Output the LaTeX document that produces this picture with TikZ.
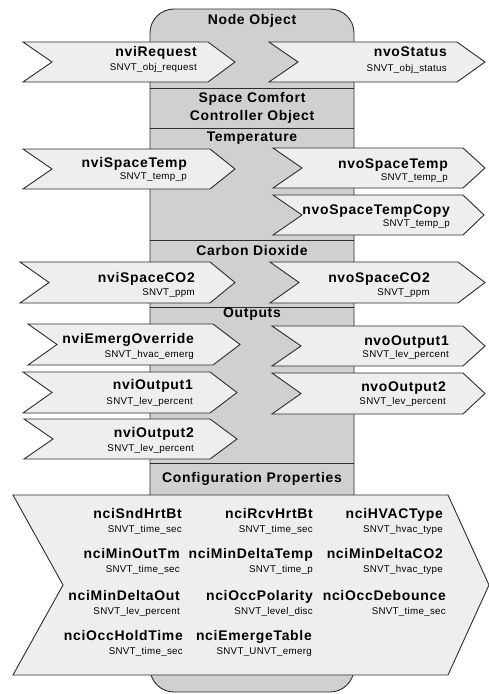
\documentclass[tikz,border=0pt]{standalone}
\usepackage{fontspec}
\setmainfont{Liberation Sans}
\newfontfamily\namefont[LetterSpace=5.0]{Liberation Sans}
\newfontfamily\typefont[LetterSpace=3.0]{Liberation Sans}
\usetikzlibrary{calc}

\definecolor{colfill}{RGB}{208,208,208}
\definecolor{chevfill}{RGB}{238,238,238}
\definecolor{edge}{RGB}{45,45,45}

\tikzset{
  chev/.style={draw=edge, fill=chevfill, line width=0.9bp, line join=miter},
  nvname/.style={font=\namefont\bfseries\fontsize{14}{14}\selectfont, anchor=base east, inner sep=0pt},
  nvtype/.style={font=\typefont\fontsize{9.8}{10}\selectfont, anchor=base east, inner sep=0pt},
  section/.style={font=\namefont\bfseries\fontsize{14}{18}\selectfont, inner sep=0pt, align=center},
}

\begin{document}
\begin{tikzpicture}[x=1bp, y=-1bp]
      \useasboundingbox (0,0) rectangle (489,694);

      % object column
      \draw[draw=edge, fill=colfill, line width=0.9bp, rounded corners=24bp] (150,9) rectangle (354,692);
      \foreach \ys in {88,128,240,307,463}{
        \draw[draw=edge, line width=0.9bp] (150,\ys) -- (354,\ys);
      }
      \node[section] (nodeobj) at (252,21) {Node Object};
      \node[section] (sccobj) at (252,108) {Space Comfort\\Controller Object};
      \node[section] (temp) at (252,138) {Temperature};
      \node[section] (co2) at (252,251) {Carbon Dioxide};
      \node[section] (outputs) at (252,314) {Outputs};
      \node[section] (config) at (252,479) {Configuration Properties};

      % network variables
      \foreach \xl/\xt/\dt/\ya/\yb/\xr/\yn/\yt/\nm/\ty [count=\i] in
      {23/235/27/42/82/197/52/67/nviRequest/SNVT\_obj\_request,
       269/485/28/42/82/447/52/68/nvoStatus/SNVT\_obj\_status,
       23/235/25/149/189/187/162/176/nviSpaceTemp/SNVT\_temp\_p,
       273/485/22/148/188/448/163/177/nvoSpaceTemp/SNVT\_temp\_p,
       273/484/21/195/235/450/209/223/nvoSpaceTempCopy/SNVT\_temp\_p,
       20/235/25/262/303/195/277/292/nviSpaceCO2/SNVT\_ppm,
       270/485/27/262/303/430/277/292/nvoSpaceCO2/SNVT\_ppm,
       28/240/27/324/365/194/338/354/nviEmergOverride/SNVT\_hvac\_emerg,
       272/485/22/326/366/449/340/354/nvoOutput1/SNVT\_lev\_percent,
       23/237/27/372/413/193/384/401/nviOutput1/SNVT\_lev\_percent,
       272/485/22/373/414/446/386/401/nvoOutput2/SNVT\_lev\_percent,
       24/237/27/419/459/194/432/448/nviOutput2/SNVT\_lev\_percent}{
        \draw[chev] (\xl,\ya) -- (\xt-\dt,\ya) -- (\xt,{(\ya+\yb)/2}) -- (\xt-\dt,\yb)
          -- (\xl,\yb) -- (\xl+29,{(\ya+\yb)/2}) -- cycle;
        \node[nvname] (nv\i) at (\xr,\yn+5) {\nm};
        \node[nvtype] (snvt\i) at (\xr,\yt+3.5) {\ty};
      }

      % configuration properties
      \draw[chev] (13,495) -- (448,495) -- (489,585) -- (448,675) -- (13,675) -- (63,585) -- cycle;
      \foreach \xr/\yn/\nm/\ty [count=\i] in
      {182/513/nciSndHrtBt/SNVT\_time\_sec,
       313/513/nciRcvHrtBt/SNVT\_time\_sec,
       443/513/nciHVACType/SNVT\_hvac\_type,
       180/553/nciMinOutTm/SNVT\_time\_sec,
       313/553/nciMinDeltaTemp/SNVT\_time\_p,
       443/553/nciMinDeltaCO2/SNVT\_hvac\_type,
       180/595/nciMinDeltaOut/SNVT\_lev\_percent,
       313/595/nciOccPolarity/SNVT\_level\_disc,
       446/595/nciOccDebounce/SNVT\_time\_sec,
       183/635/nciOccHoldTime/SNVT\_time\_sec,
       312/635/nciEmergeTable/SNVT\_UNVT\_emerg}{
        \node[nvname] (nci\i) at (\xr,\yn+5) {\nm};
        \node[nvtype] (cptype\i) at (\xr,\yn+19.5) {\ty};
      }
    \end{tikzpicture}
\end{document}
